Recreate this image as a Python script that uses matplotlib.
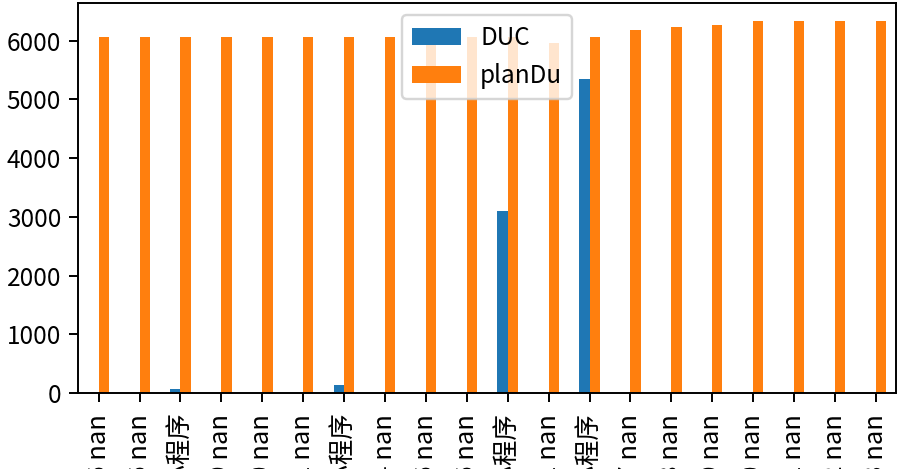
import pandas as pd
import numpy as np
import matplotlib
matplotlib.use("Agg")
import matplotlib.pyplot as plt

plt.rcParams['font.family'] = ['Noto Sans CJK SC', 'DejaVu Sans']
plt.rcParams['axes.unicode_minus'] = False

dates = ['2023-05-06', '2023-05-06', '2023-05-08', '2023-05-09', '2023-05-10',
         '2023-05-11', '2023-05-12', '2023-05-14', '2023-05-16', '2023-05-16',
         '2023-05-17', '2023-05-11', '2023-05-17', '2023-05-17', '2023-05-18',
         '2023-05-19', '2023-05-20', '2023-05-21', '2023-05-22', '2023-05-23']
kinds = ['nan', 'nan', '小程序', 'nan', 'nan', 'nan', '小程序', 'nan', 'nan', 'nan',
         '小程序', 'nan', '小程序', 'nan', 'nan', 'nan', 'nan', 'nan', 'nan', 'nan']
duc = [np.nan, np.nan, 60, np.nan, np.nan, np.nan, 130, np.nan, np.nan, np.nan,
       3100, np.nan, 5350, np.nan, np.nan, np.nan, np.nan, np.nan, np.nan, np.nan]
plan_du = [6060, 6060, 6060, 6060, 6060, 6060, 6060, 6060, 6060, 6060,
           6060, 5960, 6060, 6180, 6230, 6270, 6330, 6330, 6330, 6330]

labels = [f"{d} {k}" for d, k in zip(dates, kinds)]
df = pd.DataFrame({'DUC': duc, 'planDu': plan_du}, index=labels)

dpi = 175
fig = plt.figure(figsize=(899 / dpi, 469 / dpi), dpi=dpi)
ax = fig.add_subplot(111)
df.plot(kind='bar', ax=ax)
ax.tick_params(axis='x', labelsize=10.5, pad=5)
ax.legend(loc='upper center')
fig.subplots_adjust(left=0.087, right=0.997, top=0.994, bottom=0.162)
plt.savefig('out.png', dpi=dpi)
